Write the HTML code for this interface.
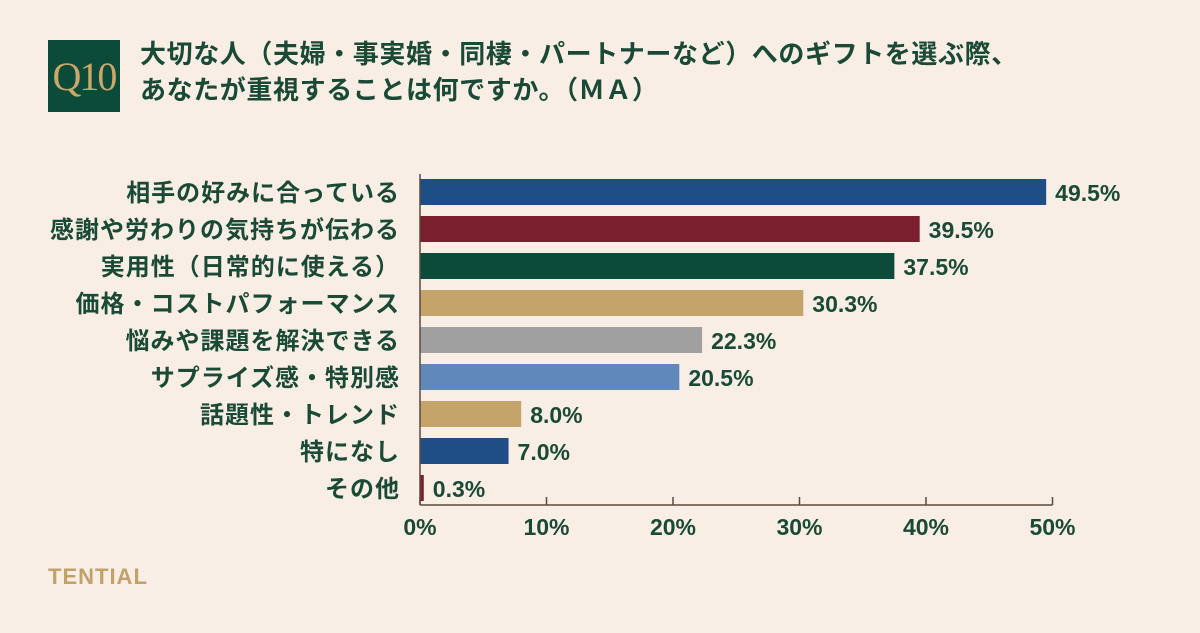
<!DOCTYPE html>
<html><head><meta charset="utf-8"><style>
body{margin:0;width:1200px;height:628px;overflow:hidden;background:#f8eee5;font-family:"Liberation Sans","Noto Sans CJK JP",sans-serif;}
</style></head><body>
<svg width="1200" height="628" xmlns="http://www.w3.org/2000/svg" id="chart">
<rect width="1200" height="628" fill="#f8eee5"/>
<g>
<rect x="48" y="40" width="72" height="72" fill="#0c4a3a"/>
<text x="84" y="90" text-anchor="middle" font-family="Liberation Serif,serif" font-size="40" letter-spacing="-2" fill="#c9a86a">Q10</text>
<text x="140" y="63" font-size="26" letter-spacing="0.6" font-weight="bold" fill="#1a4a35" font-family="Liberation Sans,Noto Sans CJK JP,sans-serif">大切な人（夫婦・事実婚・同棲・パートナーなど）へのギフトを選ぶ際、</text>
<text x="140" y="99" font-size="26" letter-spacing="0.6" font-weight="bold" fill="#1a4a35" font-family="Liberation Sans,Noto Sans CJK JP,sans-serif">あなたが重視することは何ですか。（ＭＡ）</text>
</g>
<g id="plot"></g>
<text x="48" y="584" font-size="22" font-weight="bold" letter-spacing="1" fill="#c2a269">TENTIAL</text>
</svg>
<script>
const categories=["相手の好みに合っている","感謝や労わりの気持ちが伝わる","実用性（日常的に使える）","価格・コストパフォーマンス","悩みや課題を解決できる","サプライズ感・特別感","話題性・トレンド","特になし","その他"];
const values=[49.5,39.5,37.5,30.3,22.3,20.5,8.0,7.0,0.3];
const valueLabels=["49.5%","39.5%","37.5%","30.3%","22.3%","20.5%","8.0%","7.0%","0.3%"];
const barColors=["#1f4e86","#7a1f2e","#0c4a3a","#c4a46a","#a0a0a0","#6088bb","#c4a46a","#1f4e86","#7a1f2e"];
const ticks=[0,10,20,30,40,50];
const tickLabels=["0%","10%","20%","30%","40%","50%"];
const NS="http://www.w3.org/2000/svg";
const g=document.getElementById('plot');
const x0=420,pxPer=12.65,yTop=174,pitch=37,barH=26,axisY=505;
const xs=v=>x0+v*pxPer;
const ys=i=>yTop+5+i*pitch;
function mk(t,a){const e=document.createElementNS(NS,t);for(const k in a)e.setAttribute(k,a[k]);g.appendChild(e);return e;}
categories.forEach((c,i)=>{
 const r=mk('rect',{x:x0,y:ys(i),width:xs(values[i])-x0,height:barH,fill:barColors[i]});
 
 
 const l=mk('text',{x:400,y:ys(i)+22,'text-anchor':'end','font-size':24,'letter-spacing':1,'font-weight':'bold',fill:'#1a4a35'});
 l.textContent=c;
 
 
 const v=mk('text',{x:xs(values[i])+9,y:ys(i)+22,'font-size':23,'font-weight':'bold',fill:'#1a4a35'});
 v.textContent=valueLabels[i];
 
 
});
const ya=mk('line',{x1:x0,y1:yTop,x2:x0,y2:axisY,stroke:'#5a4a40','stroke-width':1.5});


const xa=mk('line',{x1:x0,y1:axisY,x2:xs(50),y2:axisY,stroke:'#5a4a40','stroke-width':1.5});


ticks.forEach((t,i)=>{
 const tk=mk('line',{x1:xs(t),y1:axisY-8,x2:xs(t),y2:axisY,stroke:'#5a4a40','stroke-width':1.5});
 
 
 const tl=mk('text',{x:xs(t),y:axisY+30,'text-anchor':'middle','font-size':23,'font-weight':'bold',fill:'#1a4a35'});
 tl.textContent=tickLabels[i];
 
 
});
</script>
</body></html>
